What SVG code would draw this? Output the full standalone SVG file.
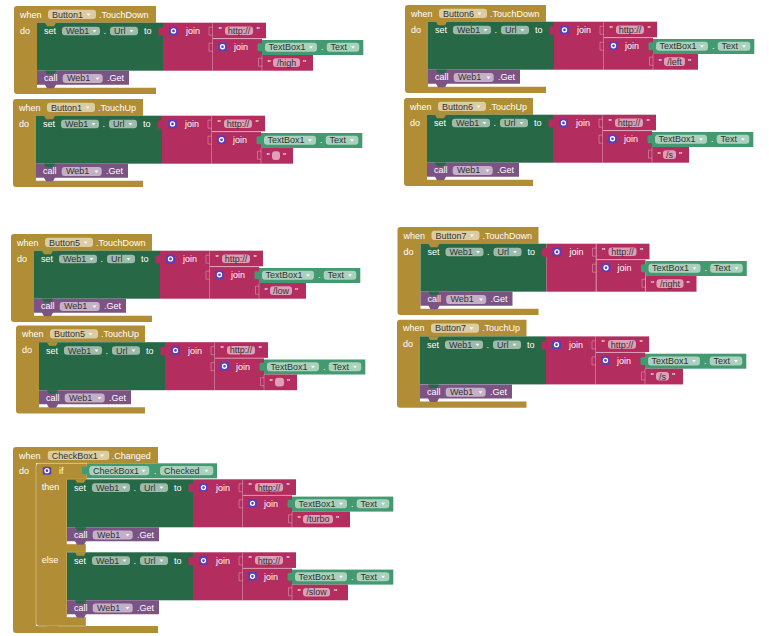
<svg xmlns="http://www.w3.org/2000/svg" xmlns:xlink="http://www.w3.org/1999/xlink" width="769" height="636" viewBox="0 0 769 636">
<style>
text{font-family:"Liberation Sans",Arial,sans-serif;font-size:9px}
.w{fill:#fff}
.k{fill:#333}
.ev{fill:#B18E35}
.st{fill:#276846}
.gt{fill:#439970}
.tx{fill:#B32D5E}
.cl{fill:#7C5385}
.ic{fill:#5C3EB8}
.pl{fill:#fff;fill-opacity:.55}
.ar{fill:#fff;fill-opacity:.9}
.gear{fill:none;stroke:#fff;stroke-width:1.3}
.hl{fill:none;stroke:#fff;stroke-opacity:.3;stroke-width:1}
.ifo{stroke:#fff;stroke-opacity:.35;stroke-width:1}
</style>
<defs>
<g id="sj">
<rect class="st" x="0" y="0" width="126" height="48"/>
<path class="cl" d="M0,48 H92 V62 H19 L17,65.5 H10 L8,62 H0 Z"/>
<path class="st" d="M8,48 L10,51.5 H17 L19,48 Z"/>
<rect class="tx" x="126" y="0" width="50" height="48"/>
<rect class="tx" x="121.5" y="4.5" width="6" height="8.5" rx="1.5"/>
<rect class="tx" x="176" y="0" width="53" height="15.7"/>
<rect class="tx" x="176" y="16" width="49" height="32"/>
<path class="hl" d="M175.5,0.5 V48 M176,16 H229 M175.5,4.5 h-3.5 v8 h3.5 M175.5,20.5 h-3.5 v8 h3.5"/>
<rect class="gt" x="225" y="17.3" width="101.3" height="15"/>
<rect class="gt" x="220.5" y="20.5" width="6" height="8" rx="1.5"/>
<rect class="ic" x="132" y="4" width="9" height="8.5" rx="1.5"/>
<circle class="gear" cx="136.5" cy="8.25" r="2"/>
<rect class="ic" x="181" y="19.8" width="9" height="8.5" rx="1.5"/>
<circle class="gear" cx="185.5" cy="24.05" r="2"/>
<rect class="pl" x="25" y="4" width="38" height="8.6" rx="3"/>
<rect class="pl" x="73" y="4" width="28" height="8.6" rx="3"/>
<rect class="pl" x="188" y="3.7" width="28" height="8.6" rx="3"/>
<rect class="pl" x="228" y="20" width="52" height="9" rx="3"/>
<rect class="pl" x="289.7" y="20" width="32.6" height="9" rx="3"/>
<rect class="pl" x="25.7" y="51.3" width="40" height="9" rx="3"/>
<polygon class="ar" points="55.5,7.3 59.5,7.3 57.5,9.8"/>
<polygon class="ar" points="92.5,7.3 96.5,7.3 94.5,9.8"/>
<polygon class="ar" points="272,23.5 276,23.5 274,26"/>
<polygon class="ar" points="314,23.5 318,23.5 316,26"/>
<polygon class="ar" points="58.5,54.8 62.5,54.8 60.5,57.3"/>
</g>
</defs>

<!-- Button1.TouchDown -->
<g id="button1-touchdown" transform="translate(14,6)">
<path class="ev" d="M0,3 Q0,0 3,0 H142 V16.7 H23 V81.7 H142 V88 H3 Q0,88 0,85 Z"/>
<rect class="pl" x="34" y="3.8" width="48" height="9.3" rx="3"/>
<polygon class="ar" points="72.5,7.5 76.5,7.5 74.5,10"/>
<text class="w" x="6" y="11.5">when</text>
<text class="k" x="38" y="11.5">Button1</text>
<text class="w" x="85" y="11.5">.TouchDown</text>
<text class="w" x="6" y="27.5">do</text>
<g transform="translate(23,16.7)">
<use href="#sj" xlink:href="#sj"/>
<path class="ev" d="M8,0 L10,3.5 H17 L19,0 Z"/>
<text class="w" x="7" y="11.5">set</text>
<text class="k" x="29" y="11.5">Web1</text>
<text class="w" x="66.5" y="11.5">.</text>
<text class="k" x="77" y="11.5">Url</text>
<text class="w" x="107" y="11.5">to</text>
<text class="w" x="149" y="11.5">join</text>
<text class="w" x="181.5" y="10">"</text>
<text class="k" x="202" y="11.3" text-anchor="middle">http://</text>
<text class="w" x="219.5" y="10">"</text>
<text class="w" x="197" y="27.5">join</text>
<text class="k" x="231.5" y="27.8">TextBox1</text>
<text class="w" x="284" y="27.8">.</text>
<text class="k" x="293.5" y="27.8">Text</text>
<text class="w" x="7" y="58.8">call</text>
<text class="k" x="30" y="58.8">Web1</text>
<text class="w" x="70" y="58.8">.Get</text>
<rect class="tx" x="225" y="32.3" width="51" height="15.7"/>
<path class="hl" d="M225,32.5 V48 M225,35.5 h-3.5 v8 h3.5"/>
<rect class="pl" x="236" y="35.6" width="27" height="8.6" rx="3"/>
<text class="w" x="230.5" y="43">"</text>
<text class="k" x="249.5" y="43.2" text-anchor="middle">/high</text>
<text class="w" x="266" y="43">"</text>
</g>
</g>

<!-- Button1.TouchUp -->
<g id="button1-touchup" transform="translate(13,99)">
<path class="ev" d="M0,3 Q0,0 3,0 H130 V16.7 H23 V81.7 H130 V88 H3 Q0,88 0,85 Z"/>
<rect class="pl" x="34" y="3.8" width="48" height="9.3" rx="3"/>
<polygon class="ar" points="72.5,7.5 76.5,7.5 74.5,10"/>
<text class="w" x="6" y="11.5">when</text>
<text class="k" x="38" y="11.5">Button1</text>
<text class="w" x="85" y="11.5">.TouchUp</text>
<text class="w" x="6" y="27.5">do</text>
<g transform="translate(23,16.7)">
<use href="#sj" xlink:href="#sj"/>
<path class="ev" d="M8,0 L10,3.5 H17 L19,0 Z"/>
<text class="w" x="7" y="11.5">set</text>
<text class="k" x="29" y="11.5">Web1</text>
<text class="w" x="66.5" y="11.5">.</text>
<text class="k" x="77" y="11.5">Url</text>
<text class="w" x="107" y="11.5">to</text>
<text class="w" x="149" y="11.5">join</text>
<text class="w" x="181.5" y="10">"</text>
<text class="k" x="202" y="11.3" text-anchor="middle">http://</text>
<text class="w" x="219.5" y="10">"</text>
<text class="w" x="197" y="27.5">join</text>
<text class="k" x="231.5" y="27.8">TextBox1</text>
<text class="w" x="284" y="27.8">.</text>
<text class="k" x="293.5" y="27.8">Text</text>
<text class="w" x="7" y="58.8">call</text>
<text class="k" x="30" y="58.8">Web1</text>
<text class="w" x="70" y="58.8">.Get</text>
<rect class="tx" x="225" y="32.3" width="32" height="15.7"/>
<path class="hl" d="M225,32.5 V48 M225,35.5 h-3.5 v8 h3.5"/>
<rect class="pl" x="236" y="35.6" width="8" height="8.6" rx="3"/>
<text class="w" x="230.5" y="43">"</text>
<text class="w" x="247" y="43">"</text>
</g>
</g>

<!-- Button6.TouchDown -->
<g id="button6-touchdown" transform="translate(405,5)">
<path class="ev" d="M0,3 Q0,0 3,0 H141 V16.7 H23 V81.7 H141 V88 H3 Q0,88 0,85 Z"/>
<rect class="pl" x="34" y="3.8" width="48" height="9.3" rx="3"/>
<polygon class="ar" points="72.5,7.5 76.5,7.5 74.5,10"/>
<text class="w" x="6" y="11.5">when</text>
<text class="k" x="38" y="11.5">Button6</text>
<text class="w" x="85" y="11.5">.TouchDown</text>
<text class="w" x="6" y="27.5">do</text>
<g transform="translate(23,16.7)">
<use href="#sj" xlink:href="#sj"/>
<path class="ev" d="M8,0 L10,3.5 H17 L19,0 Z"/>
<text class="w" x="7" y="11.5">set</text>
<text class="k" x="29" y="11.5">Web1</text>
<text class="w" x="66.5" y="11.5">.</text>
<text class="k" x="77" y="11.5">Url</text>
<text class="w" x="107" y="11.5">to</text>
<text class="w" x="149" y="11.5">join</text>
<text class="w" x="181.5" y="10">"</text>
<text class="k" x="202" y="11.3" text-anchor="middle">http://</text>
<text class="w" x="219.5" y="10">"</text>
<text class="w" x="197" y="27.5">join</text>
<text class="k" x="231.5" y="27.8">TextBox1</text>
<text class="w" x="284" y="27.8">.</text>
<text class="k" x="293.5" y="27.8">Text</text>
<text class="w" x="7" y="58.8">call</text>
<text class="k" x="30" y="58.8">Web1</text>
<text class="w" x="70" y="58.8">.Get</text>
<rect class="tx" x="225" y="32.3" width="45" height="15.7"/>
<path class="hl" d="M225,32.5 V48 M225,35.5 h-3.5 v8 h3.5"/>
<rect class="pl" x="236" y="35.6" width="21" height="8.6" rx="3"/>
<text class="w" x="230.5" y="43">"</text>
<text class="k" x="246.5" y="43.2" text-anchor="middle">/left</text>
<text class="w" x="260" y="43">"</text>
</g>
</g>

<!-- Button6.TouchUp -->
<g id="button6-touchup" transform="translate(404,98)">
<path class="ev" d="M0,3 Q0,0 3,0 H129 V16.7 H23 V81.7 H129 V88 H3 Q0,88 0,85 Z"/>
<rect class="pl" x="34" y="3.8" width="48" height="9.3" rx="3"/>
<polygon class="ar" points="72.5,7.5 76.5,7.5 74.5,10"/>
<text class="w" x="6" y="11.5">when</text>
<text class="k" x="38" y="11.5">Button6</text>
<text class="w" x="85" y="11.5">.TouchUp</text>
<text class="w" x="6" y="27.5">do</text>
<g transform="translate(23,16.7)">
<use href="#sj" xlink:href="#sj"/>
<path class="ev" d="M8,0 L10,3.5 H17 L19,0 Z"/>
<text class="w" x="7" y="11.5">set</text>
<text class="k" x="29" y="11.5">Web1</text>
<text class="w" x="66.5" y="11.5">.</text>
<text class="k" x="77" y="11.5">Url</text>
<text class="w" x="107" y="11.5">to</text>
<text class="w" x="149" y="11.5">join</text>
<text class="w" x="181.5" y="10">"</text>
<text class="k" x="202" y="11.3" text-anchor="middle">http://</text>
<text class="w" x="219.5" y="10">"</text>
<text class="w" x="197" y="27.5">join</text>
<text class="k" x="231.5" y="27.8">TextBox1</text>
<text class="w" x="284" y="27.8">.</text>
<text class="k" x="293.5" y="27.8">Text</text>
<text class="w" x="7" y="58.8">call</text>
<text class="k" x="30" y="58.8">Web1</text>
<text class="w" x="70" y="58.8">.Get</text>
<rect class="tx" x="225" y="32.3" width="37" height="15.7"/>
<path class="hl" d="M225,32.5 V48 M225,35.5 h-3.5 v8 h3.5"/>
<rect class="pl" x="236" y="35.6" width="13" height="8.6" rx="3"/>
<text class="w" x="230.5" y="43">"</text>
<text class="k" x="242.5" y="43.2" text-anchor="middle">/s</text>
<text class="w" x="252" y="43">"</text>
</g>
</g>

<!-- Button5.TouchDown -->
<g id="button5-touchdown" transform="translate(11,234)">
<path class="ev" d="M0,3 Q0,0 3,0 H141 V16.7 H23 V81.7 H141 V88 H3 Q0,88 0,85 Z"/>
<rect class="pl" x="34" y="3.8" width="48" height="9.3" rx="3"/>
<polygon class="ar" points="72.5,7.5 76.5,7.5 74.5,10"/>
<text class="w" x="6" y="11.5">when</text>
<text class="k" x="38" y="11.5">Button5</text>
<text class="w" x="85" y="11.5">.TouchDown</text>
<text class="w" x="6" y="27.5">do</text>
<g transform="translate(23,16.7)">
<use href="#sj" xlink:href="#sj"/>
<path class="ev" d="M8,0 L10,3.5 H17 L19,0 Z"/>
<text class="w" x="7" y="11.5">set</text>
<text class="k" x="29" y="11.5">Web1</text>
<text class="w" x="66.5" y="11.5">.</text>
<text class="k" x="77" y="11.5">Url</text>
<text class="w" x="107" y="11.5">to</text>
<text class="w" x="149" y="11.5">join</text>
<text class="w" x="181.5" y="10">"</text>
<text class="k" x="202" y="11.3" text-anchor="middle">http://</text>
<text class="w" x="219.5" y="10">"</text>
<text class="w" x="197" y="27.5">join</text>
<text class="k" x="231.5" y="27.8">TextBox1</text>
<text class="w" x="284" y="27.8">.</text>
<text class="k" x="293.5" y="27.8">Text</text>
<text class="w" x="7" y="58.8">call</text>
<text class="k" x="30" y="58.8">Web1</text>
<text class="w" x="70" y="58.8">.Get</text>
<rect class="tx" x="225" y="32.3" width="47" height="15.7"/>
<path class="hl" d="M225,32.5 V48 M225,35.5 h-3.5 v8 h3.5"/>
<rect class="pl" x="236" y="35.6" width="22" height="8.6" rx="3"/>
<text class="w" x="230.5" y="43">"</text>
<text class="k" x="247" y="43.2" text-anchor="middle">/low</text>
<text class="w" x="261" y="43">"</text>
</g>
</g>

<!-- Button5.TouchUp -->
<g id="button5-touchup" transform="translate(16,325.5)">
<path class="ev" d="M0,3 Q0,0 3,0 H129 V16.7 H23 V81.7 H129 V88 H3 Q0,88 0,85 Z"/>
<rect class="pl" x="34" y="3.8" width="48" height="9.3" rx="3"/>
<polygon class="ar" points="72.5,7.5 76.5,7.5 74.5,10"/>
<text class="w" x="6" y="11.5">when</text>
<text class="k" x="38" y="11.5">Button5</text>
<text class="w" x="85" y="11.5">.TouchUp</text>
<text class="w" x="6" y="27.5">do</text>
<g transform="translate(23,16.7)">
<use href="#sj" xlink:href="#sj"/>
<path class="ev" d="M8,0 L10,3.5 H17 L19,0 Z"/>
<text class="w" x="7" y="11.5">set</text>
<text class="k" x="29" y="11.5">Web1</text>
<text class="w" x="66.5" y="11.5">.</text>
<text class="k" x="77" y="11.5">Url</text>
<text class="w" x="107" y="11.5">to</text>
<text class="w" x="149" y="11.5">join</text>
<text class="w" x="181.5" y="10">"</text>
<text class="k" x="202" y="11.3" text-anchor="middle">http://</text>
<text class="w" x="219.5" y="10">"</text>
<text class="w" x="197" y="27.5">join</text>
<text class="k" x="231.5" y="27.8">TextBox1</text>
<text class="w" x="284" y="27.8">.</text>
<text class="k" x="293.5" y="27.8">Text</text>
<text class="w" x="7" y="58.8">call</text>
<text class="k" x="30" y="58.8">Web1</text>
<text class="w" x="70" y="58.8">.Get</text>
<rect class="tx" x="225" y="32.3" width="33" height="15.7"/>
<path class="hl" d="M225,32.5 V48 M225,35.5 h-3.5 v8 h3.5"/>
<rect class="pl" x="236" y="35.6" width="9" height="8.6" rx="3"/>
<text class="w" x="230.5" y="43">"</text>
<text class="w" x="248" y="43">"</text>
</g>
</g>

<!-- Button7.TouchDown -->
<g id="button7-touchdown" transform="translate(397.5,227)">
<path class="ev" d="M0,3 Q0,0 3,0 H141 V16.7 H23 V81.7 H141 V88 H3 Q0,88 0,85 Z"/>
<rect class="pl" x="34" y="3.8" width="48" height="9.3" rx="3"/>
<polygon class="ar" points="72.5,7.5 76.5,7.5 74.5,10"/>
<text class="w" x="6" y="11.5">when</text>
<text class="k" x="38" y="11.5">Button7</text>
<text class="w" x="85" y="11.5">.TouchDown</text>
<text class="w" x="6" y="27.5">do</text>
<g transform="translate(23,16.7)">
<use href="#sj" xlink:href="#sj"/>
<path class="ev" d="M8,0 L10,3.5 H17 L19,0 Z"/>
<text class="w" x="7" y="11.5">set</text>
<text class="k" x="29" y="11.5">Web1</text>
<text class="w" x="66.5" y="11.5">.</text>
<text class="k" x="77" y="11.5">Url</text>
<text class="w" x="107" y="11.5">to</text>
<text class="w" x="149" y="11.5">join</text>
<text class="w" x="181.5" y="10">"</text>
<text class="k" x="202" y="11.3" text-anchor="middle">http://</text>
<text class="w" x="219.5" y="10">"</text>
<text class="w" x="197" y="27.5">join</text>
<text class="k" x="231.5" y="27.8">TextBox1</text>
<text class="w" x="284" y="27.8">.</text>
<text class="k" x="293.5" y="27.8">Text</text>
<text class="w" x="7" y="58.8">call</text>
<text class="k" x="30" y="58.8">Web1</text>
<text class="w" x="70" y="58.8">.Get</text>
<rect class="tx" x="225" y="32.3" width="51" height="15.7"/>
<path class="hl" d="M225,32.5 V48 M225,35.5 h-3.5 v8 h3.5"/>
<rect class="pl" x="236" y="35.6" width="27" height="8.6" rx="3"/>
<text class="w" x="230.5" y="43">"</text>
<text class="k" x="249.5" y="43.2" text-anchor="middle">/right</text>
<text class="w" x="266" y="43">"</text>
</g>
</g>

<!-- Button7.TouchUp -->
<g id="button7-touchup" transform="translate(397,319.7)">
<path class="ev" d="M0,3 Q0,0 3,0 H129.5 V16.7 H23 V81.7 H129.5 V88 H3 Q0,88 0,85 Z"/>
<rect class="pl" x="34" y="3.8" width="48" height="9.3" rx="3"/>
<polygon class="ar" points="72.5,7.5 76.5,7.5 74.5,10"/>
<text class="w" x="6" y="11.5">when</text>
<text class="k" x="38" y="11.5">Button7</text>
<text class="w" x="85" y="11.5">.TouchUp</text>
<text class="w" x="6" y="27.5">do</text>
<g transform="translate(23,16.7)">
<use href="#sj" xlink:href="#sj"/>
<path class="ev" d="M8,0 L10,3.5 H17 L19,0 Z"/>
<text class="w" x="7" y="11.5">set</text>
<text class="k" x="29" y="11.5">Web1</text>
<text class="w" x="66.5" y="11.5">.</text>
<text class="k" x="77" y="11.5">Url</text>
<text class="w" x="107" y="11.5">to</text>
<text class="w" x="149" y="11.5">join</text>
<text class="w" x="181.5" y="10">"</text>
<text class="k" x="202" y="11.3" text-anchor="middle">http://</text>
<text class="w" x="219.5" y="10">"</text>
<text class="w" x="197" y="27.5">join</text>
<text class="k" x="231.5" y="27.8">TextBox1</text>
<text class="w" x="284" y="27.8">.</text>
<text class="k" x="293.5" y="27.8">Text</text>
<text class="w" x="7" y="58.8">call</text>
<text class="k" x="30" y="58.8">Web1</text>
<text class="w" x="70" y="58.8">.Get</text>
<rect class="tx" x="225" y="32.3" width="38" height="15.7"/>
<path class="hl" d="M225,32.5 V48 M225,35.5 h-3.5 v8 h3.5"/>
<rect class="pl" x="236" y="35.6" width="13" height="8.6" rx="3"/>
<text class="w" x="230.5" y="43">"</text>
<text class="k" x="242.5" y="43.2" text-anchor="middle">/s</text>
<text class="w" x="252" y="43">"</text>
</g>
</g>

<!-- CheckBox1.Changed -->
<g id="checkbox1-changed" transform="translate(13,447)">
<path class="ev" d="M0,3 Q0,0 3,0 H145 V16.3 H23 V179 H145 V186 H3 Q0,186 0,183 Z"/>
<rect class="pl" x="34.7" y="3.8" width="61.6" height="9.3" rx="3"/>
<polygon class="ar" points="87,7.5 91,7.5 89,10"/>
<text class="w" x="6" y="11.5">when</text>
<text class="k" x="38.7" y="11.5">CheckBox1</text>
<text class="w" x="98.7" y="11.5">.Changed</text>
<text class="w" x="6" y="26.5">do</text>
<g id="if-block">
<path class="ev ifo" d="M23,19.3 Q23,16.3 26,16.3 H74 V32.3 H54 V97 H73 V105.3 H54 V170 H73 V179 H26 Q23,179 23,176 Z"/>
<path class="ev" d="M34,179 L36,182.5 H43 L45,179 Z"/>
<rect class="ic" x="29.7" y="19.7" width="8.5" height="8" rx="1.5"/>
<circle class="gear" cx="33.95" cy="23.7" r="2"/>
<text class="w" x="46" y="27">if</text>
<text class="w" x="28.7" y="42.5">then</text>
<text class="w" x="28.7" y="115.5">else</text>
<rect class="gt" x="74" y="16.3" width="130" height="15"/>
<rect class="gt" x="69" y="19.5" width="6" height="8" rx="1.5"/>
<rect class="pl" x="76.3" y="19" width="60" height="9.3" rx="3"/>
<polygon class="ar" points="128.5,22.7 132.5,22.7 130.5,25.2"/>
<rect class="pl" x="147" y="19" width="53.3" height="9.3" rx="3"/>
<polygon class="ar" points="191.5,22.7 195.5,22.7 193.5,25.2"/>
<text class="k" x="80" y="26.8">CheckBox1</text>
<text class="w" x="141" y="26.8">.</text>
<text class="k" x="151" y="26.8">Checked</text>
</g>
<g transform="translate(54,32.3)">
<use href="#sj" xlink:href="#sj"/>
<path class="ev" d="M8,0 L10,3.5 H17 L19,0 Z"/>
<text class="w" x="7" y="11.5">set</text>
<text class="k" x="29" y="11.5">Web1</text>
<text class="w" x="66.5" y="11.5">.</text>
<text class="k" x="77" y="11.5">Url</text>
<text class="w" x="107" y="11.5">to</text>
<text class="w" x="149" y="11.5">join</text>
<text class="w" x="181.5" y="10">"</text>
<text class="k" x="202" y="11.3" text-anchor="middle">http://</text>
<text class="w" x="219.5" y="10">"</text>
<text class="w" x="197" y="27.5">join</text>
<text class="k" x="231.5" y="27.8">TextBox1</text>
<text class="w" x="284" y="27.8">.</text>
<text class="k" x="293.5" y="27.8">Text</text>
<text class="w" x="7" y="58.8">call</text>
<text class="k" x="30" y="58.8">Web1</text>
<text class="w" x="70" y="58.8">.Get</text>
<rect class="tx" x="225" y="32.3" width="58" height="15.7"/>
<path class="hl" d="M225,32.5 V48 M225,35.5 h-3.5 v8 h3.5"/>
<rect class="pl" x="236" y="35.6" width="30" height="8.6" rx="3"/>
<text class="w" x="230.5" y="43">"</text>
<text class="k" x="251" y="43.2" text-anchor="middle">/turbo</text>
<text class="w" x="269" y="43">"</text>
</g>
<g transform="translate(54,105.3)">
<use href="#sj" xlink:href="#sj"/>
<path class="ev" d="M8,0 L10,3.5 H17 L19,0 Z"/>
<text class="w" x="7" y="11.5">set</text>
<text class="k" x="29" y="11.5">Web1</text>
<text class="w" x="66.5" y="11.5">.</text>
<text class="k" x="77" y="11.5">Url</text>
<text class="w" x="107" y="11.5">to</text>
<text class="w" x="149" y="11.5">join</text>
<text class="w" x="181.5" y="10">"</text>
<text class="k" x="202" y="11.3" text-anchor="middle">http://</text>
<text class="w" x="219.5" y="10">"</text>
<text class="w" x="197" y="27.5">join</text>
<text class="k" x="231.5" y="27.8">TextBox1</text>
<text class="w" x="284" y="27.8">.</text>
<text class="k" x="293.5" y="27.8">Text</text>
<text class="w" x="7" y="58.8">call</text>
<text class="k" x="30" y="58.8">Web1</text>
<text class="w" x="70" y="58.8">.Get</text>
<rect class="tx" x="225" y="32.3" width="56" height="15.7"/>
<path class="hl" d="M225,32.5 V48 M225,35.5 h-3.5 v8 h3.5"/>
<rect class="pl" x="236" y="35.6" width="27" height="8.6" rx="3"/>
<text class="w" x="230.5" y="43">"</text>
<text class="k" x="249.5" y="43.2" text-anchor="middle">/slow</text>
<text class="w" x="267" y="43">"</text>
</g>
</g>

<g id="connectors"></g>
</svg>
